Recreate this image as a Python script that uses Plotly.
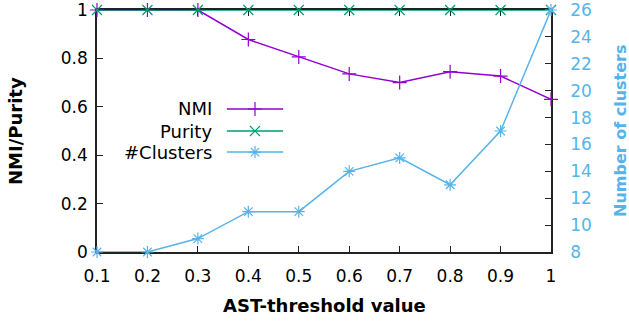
import plotly.graph_objects as go

thresholds = [0.1, 0.2, 0.3, 0.4, 0.5, 0.6, 0.7, 0.8, 0.9, 1.0]
nmi = [1.0, 1.0, 1.0, 0.878, 0.806, 0.736, 0.700, 0.745, 0.727, 0.631]
purity = [1.0, 1.0, 1.0, 1.0, 1.0, 1.0, 1.0, 1.0, 1.0, 1.0]
clusters = [8, 8, 9, 11, 11, 14, 15, 13, 17, 26]

x_tickvals = [0.1, 0.2, 0.3, 0.4, 0.5, 0.6, 0.7, 0.8, 0.9, 1.0]
x_ticktext = ["0.1", "0.2", "0.3", "0.4", "0.5", "0.6", "0.7", "0.8", "0.9", "1"]
y_tickvals = [0, 0.2, 0.4, 0.6, 0.8, 1.0]
y_ticktext = ["0", "0.2", "0.4", "0.6", "0.8", "1"]
y2_tickvals = [8, 10, 12, 14, 16, 18, 20, 22, 24, 26]

series_names = ["NMI", "Purity", "#Clusters"]
colors = ["#9400D3", "#009E73", "#56B4E9"]
symbols = ["cross-thin", "x-thin", "asterisk-open"]

FONT = "DejaVu Sans"
W, H = 629, 322
ML, MR, MT, MB = 97, 78, 10, 70
MS, MW = 10, 1.2

fig = go.Figure()

fig.add_trace(go.Scatter(x=thresholds, y=nmi, mode="lines+markers", name=series_names[0],
                         line=dict(color=colors[0], width=1.5),
                         marker=dict(symbol=symbols[0], size=MS, line=dict(color=colors[0], width=MW)),
                         cliponaxis=False, showlegend=False))
fig.add_trace(go.Scatter(x=thresholds, y=purity, mode="lines+markers", name=series_names[1],
                         line=dict(color=colors[1], width=1.5),
                         marker=dict(symbol=symbols[1], size=MS, line=dict(color=colors[1], width=MW)),
                         cliponaxis=False, showlegend=False))
fig.add_trace(go.Scatter(x=thresholds, y=clusters, mode="lines+markers", name=series_names[2],
                         yaxis="y2",
                         line=dict(color=colors[2], width=1.5),
                         marker=dict(symbol=symbols[2], size=MS, line=dict(color=colors[2], width=MW)),
                         cliponaxis=False, showlegend=False))

# manual gnuplot-style key (text right, sample on the right)
key_rows = [0.591, 0.5, 0.413]
for name, col, sym, ky in zip(series_names, colors, symbols, key_rows):
    fig.add_trace(go.Scatter(x=[0.286, 0.41], y=[ky, ky], mode="lines", xaxis="x3", yaxis="y3",
                             line=dict(color=col, width=1.5), showlegend=False, hoverinfo="skip",
                             cliponaxis=False))
    fig.add_trace(go.Scatter(x=[0.348], y=[ky], mode="markers", xaxis="x3", yaxis="y3",
                             marker=dict(symbol=sym, size=MS, color=col, line=dict(color=col, width=MW)),
                             showlegend=False, hoverinfo="skip", cliponaxis=False))
    fig.add_annotation(text=name, xref="paper", yref="paper", x=0.258, y=ky,
                       xanchor="right", yanchor="middle", showarrow=False,
                       font=dict(family=FONT, size=18, color="#000"))

axis_common = dict(showline=True, linecolor="#222", linewidth=1.5, ticks="inside",
                   ticklen=6, tickcolor="#222", tickwidth=1, showgrid=False, zeroline=False,
                   automargin=False, ticklabeloverflow="allow",
                   tickfont=dict(family=FONT, size=17, color="#000"))

fig.update_layout(
    width=W, height=H,
    margin=dict(l=ML, r=MR, t=MT, b=MB, autoexpand=False),
    plot_bgcolor="white", paper_bgcolor="white",
    xaxis=dict(range=[0.1, 1.0], tickvals=x_tickvals, ticktext=x_ticktext,
               mirror="ticks", layer="below traces", ticklabelstandoff=8, **axis_common),
    yaxis=dict(range=[0, 1], tickvals=y_tickvals, ticktext=y_ticktext,
               layer="below traces", ticklabelstandoff=4, **axis_common),
    yaxis2=dict(range=[8, 26], tickvals=y2_tickvals, overlaying="y", side="right",
                showline=True, linecolor="#222", linewidth=1.5, ticks="inside", ticklen=6,
                tickcolor="#222", tickwidth=1, showgrid=False, zeroline=False, layer="below traces",
                ticklabelstandoff=14, automargin=False, ticklabeloverflow="allow",
                tickfont=dict(family=FONT, size=17, color="#56B4E9")),
    xaxis3=dict(overlaying="x", range=[0, 1], visible=False, automargin=False),
    yaxis3=dict(overlaying="y", range=[0, 1], visible=False, automargin=False),
    showlegend=False,
)

fig.add_annotation(text="<b>AST-threshold value</b>", xref="paper", yref="paper",
                   x=0.5, y=-(305 - (H - MB)) / (H - MT - MB), xanchor="center", yanchor="middle",
                   showarrow=False, font=dict(family=FONT, size=18, color="#000"))
fig.add_annotation(text="<b>NMI/Purity</b>", xref="paper", yref="paper",
                   x=-(ML - 15) / (W - ML - MR), y=0.5, xanchor="center", yanchor="middle",
                   textangle=-90, showarrow=False, font=dict(family=FONT, size=18, color="#000"))
fig.add_annotation(text="<b>Number of clusters</b>", xref="paper", yref="paper",
                   x=1 + (620 - (W - MR)) / (W - ML - MR), y=0.5, xanchor="center", yanchor="middle",
                   textangle=-90, showarrow=False, font=dict(family=FONT, size=16, color="#56B4E9"))

fig.write_html("out.html")
